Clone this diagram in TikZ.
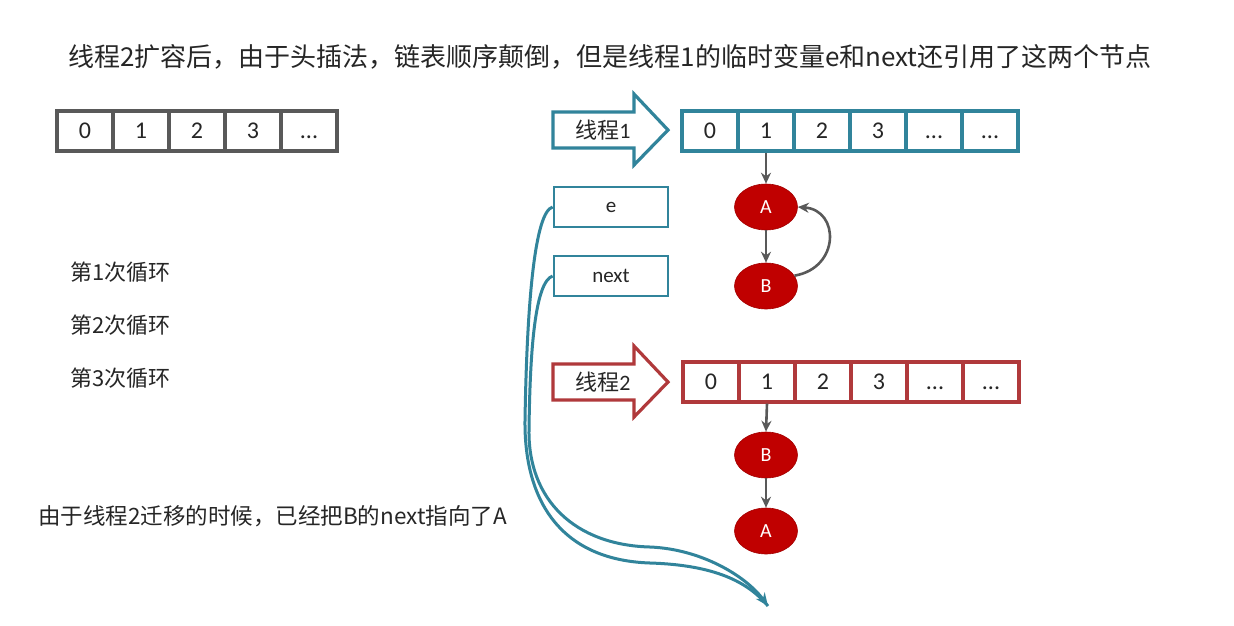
\documentclass[tikz,border=0pt]{standalone}
\usepackage{fontspec}
\setmainfont{Noto Sans CJK SC}
\newfontfamily\latfont{Carlito}
\usetikzlibrary{arrows.meta,shapes.geometric}

\definecolor{tealline}{HTML}{31849B}
\definecolor{redline}{HTML}{B0393B}
\definecolor{nodered}{HTML}{C00000}
\definecolor{grayline}{HTML}{595959}
\definecolor{txt}{HTML}{262626}

\newcommand\moredots{...}

\tikzset{
  cellbox/.style={draw=#1, line width=3.2pt, minimum width=56pt, minimum height=40pt,
    inner sep=0pt, text height=15pt, text depth=0pt,
    font=\latfont\fontsize{24}{24}\selectfont, text=txt},
  varbox/.style={draw=tealline, line width=2.8pt, fill=white, minimum width=114pt,
    minimum height=40pt, inner sep=0pt, font=\latfont\fontsize{21}{21}\selectfont, text=txt},
  listnode/.style={ellipse, fill=nodered, draw=nodered!85!black, line width=0.6pt,
    minimum width=63pt, minimum height=46pt, inner sep=0pt, text=white,
    font=\latfont\fontsize{20}{20}\selectfont},
  linkarrow/.style={draw=grayline, line width=2.6pt, -{Stealth[length=11pt,width=10pt]}},
  refcurve/.style={draw=tealline, line width=3pt},
  plain/.style={font=\fontsize{#1}{#1}\selectfont, text=txt, inner sep=0pt},
  threadarrow/.style={draw=#1, line width=3.2pt, fill=white, line join=miter}
}

\begin{document}
\begin{tikzpicture}[x=1pt,y=-1pt]
\useasboundingbox (0,0) rectangle (1234,625);
\fill[white] (0,0) rectangle (1234,625);

% heading
\node[plain=26, anchor=west] (title) at (68,57)
  {线程2扩容后，由于头插法，链表顺序颠倒，但是线程1的临时变量e和next还引用了这两个节点};

% original table
\foreach \i/\t in {0/0,1/1,2/2,3/3,4/\moredots}
  \node[cellbox=grayline] (o\i) at (85+56*\i,131) {\t};

% thread 1 arrow
\draw[threadarrow=tealline] (553,112) -- (634,112) -- (634,94) -- (668,130)
  -- (634,165) -- (634,148) -- (553,148) -- cycle;
\node[plain=22, anchor=center] (t1) at (603,130) {线程\latfont 1};

% thread 1 table
\foreach \i/\t in {0/0,1/1,2/2,3/3,4/\moredots,5/\moredots}
  \node[cellbox=tealline] (a\i) at (710+56*\i,131) {\t};

% thread 1 chain
\node[listnode] (A1) at (766,207) {A};
\node[listnode] (B1) at (766,286) {B};
\draw[linkarrow] (a1.south) -- (A1.north);
\draw[linkarrow] (A1.south) -- (B1.north);
\draw[linkarrow] (B1.20) .. controls (840,268) and (840,210) .. (A1.east);

% local variables of thread 1
\node[varbox] (e) at (611,207) {e};
\node[varbox] (nx) at (611,276) {next};

% loop labels
\node[plain=22, anchor=west] (l1) at (70,272) {第1次循环};
\node[plain=22, anchor=west] (l2) at (70,325) {第2次循环};
\node[plain=22, anchor=west] (l3) at (70,378) {第3次循环};

% thread 2 arrow
\draw[threadarrow=redline] (553,364) -- (634,364) -- (634,346) -- (668,382)
  -- (634,417) -- (634,400) -- (553,400) -- cycle;
\node[plain=22, anchor=center] (t2) at (603,382) {线程\latfont 2};

% thread 2 table
\foreach \i/\t in {0/0,1/1,2/2,3/3,4/\moredots,5/\moredots}
  \node[cellbox=redline] (b\i) at (711+56*\i,382) {\t};

% thread 2 chain
\node[listnode] (B2) at (766,455) {B};
\node[listnode] (A2) at (766,531) {A};
\draw[linkarrow] (b1.south) -- (B2.north);
\draw[linkarrow] (B2.south) -- (A2.north);

% note
\node[plain=22.5, anchor=west] (note) at (38,516) {由于线程2迁移的时候，已经把B的next指向了A};

% stale references held by thread 1
\coordinate (lost) at (768,606);
\draw[refcurve] (e.west) .. controls (535,212) and (527,300) .. (525,420)
  .. controls (524,500) and (560,560) .. (650,563)
  .. controls (715,565) and (748,582) .. (lost);
\draw[refcurve, -{Stealth[length=13pt,width=11pt]}] (nx.west) .. controls (535,282) and (530,350) .. (529,430)
  .. controls (528,500) and (575,545) .. (650,547)
  .. controls (700,549) and (745,575) .. (lost);
\end{tikzpicture}
\end{document}
